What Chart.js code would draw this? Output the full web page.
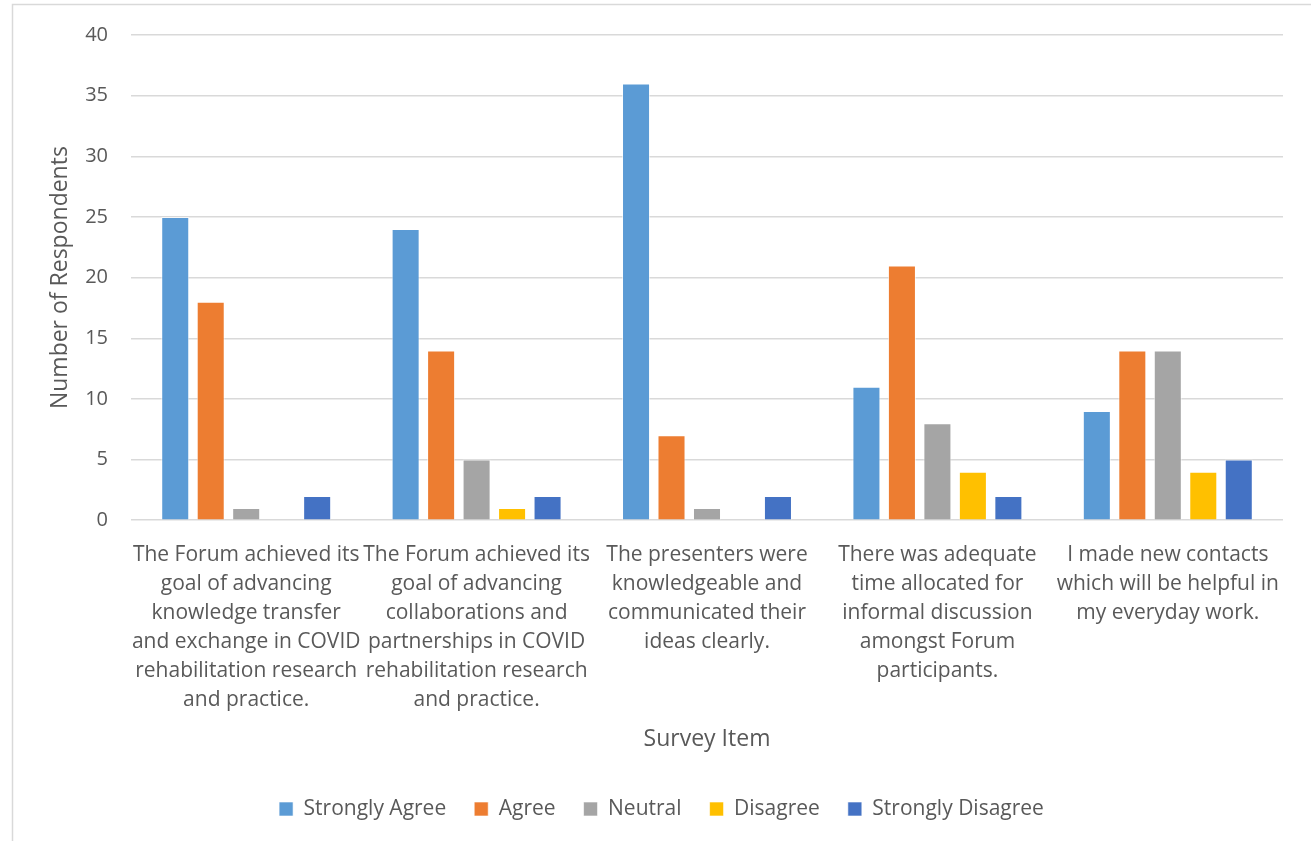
<!DOCTYPE html>
<html>
<head>
<meta charset="utf-8">
<script src="https://cdn.jsdelivr.net/npm/chart.js@4.4.0/dist/chart.umd.min.js"></script>
<style>
  html, body { margin: 0; padding: 0; background: #fff; }
  #wrap { position: relative; width: 1311px; height: 841px; }
</style>
</head>
<body>
<div id="wrap"><canvas id="bar-chart"></canvas></div>
<script>
var categories = [
    ["The Forum achieved its", "goal of advancing", "knowledge transfer", "and exchange in COVID", "rehabilitation research", "and practice."],
    ["The Forum achieved its", "goal of advancing", "collaborations and", "partnerships in COVID", "rehabilitation research", "and practice."],
    ["The presenters were", "knowledgeable and", "communicated their", "ideas clearly."],
    ["There was adequate", "time allocated for", "informal discussion", "amongst Forum", "participants."],
    ["I made new contacts", "which will be helpful in", "my everyday work."]
];
var seriesNames = ["Strongly Agree", "Agree", "Neutral", "Disagree", "Strongly Disagree"];
var stronglyAgree = [25, 24, 36, 11, 9];
var agree = [18, 14, 7, 21, 14];
var neutral = [1, 5, 1, 8, 14];
var disagree = [0, 1, 0, 4, 4];
var stronglyDisagree = [2, 2, 2, 2, 5];
var colors = ["#5B9BD5", "#ED7D31", "#A5A5A5", "#FFC000", "#4472C4"];
var yTicks = [0, 5, 10, 15, 20, 25, 30, 35, 40];

var textColor = "#595959";
var fontFamily = "'Open Sans', Arial, sans-serif";

// thin frame around the chart, like the Excel chart box
var frame = {
    id: 'frame',
    beforeDraw: function (chart) {
        var ctx = chart.ctx;
        ctx.save();
        ctx.strokeStyle = "#d9d9d9";
        ctx.lineWidth = 1.5;
        ctx.beginPath();
        ctx.moveTo(12.5, 841);
        ctx.lineTo(12.5, 4.5);
        ctx.lineTo(1311, 4.5);
        ctx.stroke();
        ctx.restore();
    }
};

function makeSet(i, data) {
    return {
        label: seriesNames[i],
        data: data,
        backgroundColor: colors[i],
        borderColor: "rgba(255,255,255,0.6)",
        borderWidth: 1,
        categoryPercentage: 0.77,
        barPercentage: 0.79
    };
}

var handleChartJs = function () {
    var ctx = document.getElementById('bar-chart').getContext('2d');
    window.myBar = new Chart(ctx, {
        type: 'bar',
        data: {
            labels: categories,
            datasets: [
                makeSet(0, stronglyAgree),
                makeSet(1, agree),
                makeSet(2, neutral),
                makeSet(3, disagree),
                makeSet(4, stronglyDisagree)
            ]
        },
        plugins: [frame],
        options: {
            responsive: true,
            maintainAspectRatio: false,
            animation: false,
            layout: { padding: { left: 40, right: 28, top: 26.5, bottom: 11.5 } },
            plugins: {
                legend: {
                    position: 'bottom',
                    labels: {
                        color: textColor,
                        font: { family: fontFamily, size: 21 },
                        boxWidth: 14,
                        boxHeight: 14,
                        padding: 28
                    }
                },
                tooltip: { enabled: false }
            },
            scales: {
                x: {
                    afterFit: function (scale) { scale.height = scale.height - 3; },
                    grid: { display: false, drawTicks: false },
                    border: { display: false },
                    ticks: {
                        color: textColor,
                        font: { family: fontFamily, size: 21, lineHeight: 29 / 21 },
                        padding: 20.5,
                        maxRotation: 0,
                        autoSkip: false
                    },
                    title: {
                        display: true,
                        text: 'Survey Item',
                        color: textColor,
                        font: { family: fontFamily, size: 23 },
                        padding: { top: -7, bottom: 17.7 }
                    }
                },
                y: {
                    min: 0,
                    max: 40,
                    afterBuildTicks: function (scale) {
                        scale.ticks = yTicks.map(function (v) { return { value: v }; });
                    },
                    afterFit: function (scale) { scale.width = 91; },
                    grid: { color: "#d9d9d9", lineWidth: 1.5, drawTicks: false },
                    border: { display: false },
                    ticks: {
                        color: textColor,
                        font: { family: fontFamily, size: 20 },
                        padding: 23
                    },
                    title: {
                        display: true,
                        text: 'Number of Respondents',
                        color: textColor,
                        font: { family: fontFamily, size: 23 },
                        padding: 7
                    }
                }
            }
        }
    });
};

handleChartJs();
</script>
</body>
</html>
